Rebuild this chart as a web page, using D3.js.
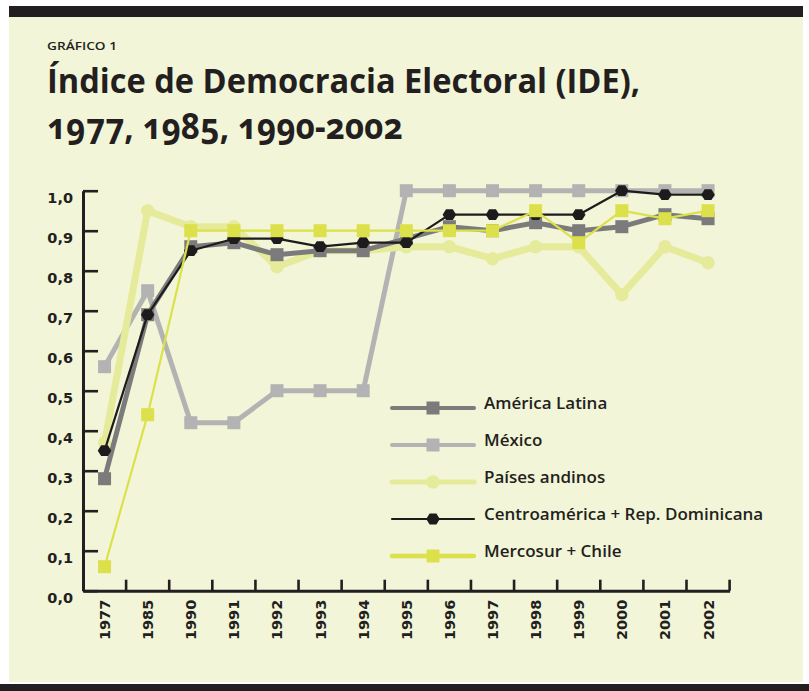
<!DOCTYPE html>
<html><head><meta charset="utf-8">
<script src="https://cdn.jsdelivr.net/npm/d3@7"></script>
<style>
html,body{margin:0;padding:0;background:#ffffff;}
svg{display:block;}
</style></head>
<body>
<svg id="chart" width="809" height="691"></svg>
<script>
// ---- data ----
const years = ["1977","1985","1990","1991","1992","1993","1994","1995","1996","1997","1998","1999","2000","2001","2002"];
const americaLatina = [0.28,0.69,0.86,0.87,0.84,0.85,0.85,0.88,0.91,0.90,0.92,0.90,0.91,0.94,0.93];
const mexico        = [0.56,0.75,0.42,0.42,0.50,0.50,0.50,1.00,1.00,1.00,1.00,1.00,1.00,1.00,1.00];
const paisesAndinos = [0.37,0.95,0.91,0.91,0.81,0.85,0.85,0.86,0.86,0.83,0.86,0.86,0.74,0.86,0.82];
const centroamerica = [0.35,0.69,0.85,0.88,0.88,0.86,0.87,0.87,0.94,0.94,0.94,0.94,1.00,0.99,0.99];
const mercosur      = [0.06,0.44,0.90,0.90,0.90,0.90,0.90,0.90,0.90,0.90,0.95,0.87,0.95,0.93,0.95];
const yTicks = [0,0.1,0.2,0.3,0.4,0.5,0.6,0.7,0.8,0.9,1.0];
const seriesNames = ["América Latina","México","Países andinos","Centroamérica + Rep. Dominicana","Mercosur + Chile"];

const ink = "#231f20";
const hexagon = {
  draw(ctx, size){
    const r = Math.sqrt(size/2.598);
    for(let i=0;i<6;i++){
      const a = Math.PI/3*i;
      const px = r*Math.cos(a), py = r*Math.sin(a)*0.92;
      if(i===0) ctx.moveTo(px,py); else ctx.lineTo(px,py);
    }
    ctx.closePath();
  }
};
const series = [
  {name:seriesNames[1], values:mexico,        color:"#b3b3b3", width:5,   lw:4,   sym:d3.symbolSquare, size:169, legend:1},
  {name:seriesNames[2], values:paisesAndinos, color:"#e6eb9b", width:7,   lw:5,   sym:d3.symbolCircle, size:140, legend:2},
  {name:seriesNames[0], values:americaLatina, color:"#7b7b7b", width:5,   lw:4,   sym:d3.symbolSquare, size:169, legend:0},
  {name:seriesNames[3], values:centroamerica, color:"#1e1b1c", width:2.2, lw:2.2, sym:hexagon,         size:120, legend:3},
  {name:seriesNames[4], values:mercosur,      color:"#dce04a", width:2.2, lw:4.5, sym:d3.symbolSquare, size:169, legend:4}
];

const svg = d3.select("#chart");
// frame
svg.append("rect").attr("x",9).attr("y",6).attr("width",794).attr("height",676).attr("fill","#f2f5d7");
svg.append("rect").attr("x",9).attr("y",6).attr("width",794).attr("height",11).attr("fill",ink);
svg.append("rect").attr("x",0).attr("y",684).attr("width",809).attr("height",7).attr("fill",ink);

// titles
svg.append("text").attr("x",47).attr("y",50).attr("fill",ink)
  .attr("font-family","'Open Sans',sans-serif").attr("font-weight",600).attr("font-size",10.5)
  .attr("textLength",70).attr("lengthAdjust","spacingAndGlyphs").text("GRÁFICO 1");
svg.append("text").attr("x",47).attr("y",92.5).attr("fill",ink)
  .attr("font-family","'Open Sans',sans-serif").attr("font-weight",700).attr("font-size",34)
  .attr("textLength",593).attr("lengthAdjust","spacingAndGlyphs").text("Índice de Democracia Electoral (IDE),");
svg.append("text").attr("x",47).attr("y",139).attr("fill",ink)
  .attr("font-family","'Noto Sans',sans-serif").attr("font-weight",700).attr("font-size",35)
  .style("font-variant-numeric","oldstyle-nums")
  .attr("textLength",356).attr("lengthAdjust","spacingAndGlyphs").text("1977, 1985, 1990-2002");

// scales
const x = d3.scaleBand().domain(years).range([83,729.6]).padding(0);
const y = d3.scaleLinear().domain([0,1]).range([590.7,190.7]);
const cx = d => x(d) + x.bandwidth()/2;

// y axis
const yAxis = d3.axisLeft(y).tickValues(yTicks).tickSize(-15).tickSizeOuter(0).tickPadding(10)
  .tickFormat(d => d3.format(".1f")(d).replace(".",","));
const gy = svg.append("g").attr("transform","translate(83,0)").call(yAxis);
gy.select(".domain").attr("stroke",ink).attr("stroke-width",3);
gy.selectAll(".tick line").attr("stroke",ink).attr("stroke-width",2.6);
gy.selectAll(".tick text").attr("fill",ink).attr("font-family","'DejaVu Sans',sans-serif")
  .attr("font-weight",700).attr("font-size",14.5).attr("dy","0.82em");

// x axis
const xAxis = d3.axisBottom(x).tickSize(0).tickSizeOuter(0).tickPadding(0);
const gx = svg.append("g").attr("transform","translate(0,590.7)").call(xAxis);
gx.select(".domain").attr("stroke",ink).attr("stroke-width",3);
gx.selectAll(".tick text").attr("fill",ink).attr("font-family","'DejaVu Sans',sans-serif")
  .attr("font-weight",700).attr("font-size",14.5)
  .attr("text-anchor","end").attr("dy",null).attr("y",null)
  .attr("transform","translate(5.5,9) rotate(-90)");
// boundary ticks
const bounds = years.slice(1).map(d => x(d)).concat([x(years[years.length-1]) + x.bandwidth()]);
gx.selectAll(".btick").data(bounds).enter().append("line").attr("class","btick")
  .attr("x1",d=>d).attr("x2",d=>d).attr("y1",0).attr("y2",-11)
  .attr("stroke",ink).attr("stroke-width",2.6);

// series
const line = d3.line().x((d,i)=>cx(years[i])).y(d=>y(d));
series.forEach(s => {
  const g = svg.append("g");
  g.append("path").attr("d",line(s.values)).attr("fill","none").attr("stroke",s.color)
    .attr("stroke-width",s.width).attr("stroke-linejoin","round").attr("stroke-linecap","round");
  g.selectAll("path.m").data(s.values).enter().append("path").attr("class","m")
    .attr("d", d3.symbol().type(s.sym).size(s.size))
    .attr("transform",(d,i)=>`translate(${cx(years[i])},${y(d)})`)
    .attr("fill",s.color);
});

// legend
const legendRows = [408,445,482,519,556];
const lg = svg.append("g");
series.forEach(s => {
  const ry = legendRows[s.legend];
  lg.append("line").attr("x1",392).attr("x2",474).attr("y1",ry).attr("y2",ry)
    .attr("stroke",s.color).attr("stroke-width",s.lw).attr("stroke-linecap","round");
  lg.append("path").attr("d",d3.symbol().type(s.sym).size(s.size)).attr("transform",`translate(433,${ry})`).attr("fill",s.color);
  lg.append("text").attr("x",484).attr("y",ry+1).attr("fill",ink)
    .attr("font-family","'Open Sans',sans-serif").attr("font-weight",600).attr("font-size",17)
    .text(s.name);
});
</script>
</body></html>
